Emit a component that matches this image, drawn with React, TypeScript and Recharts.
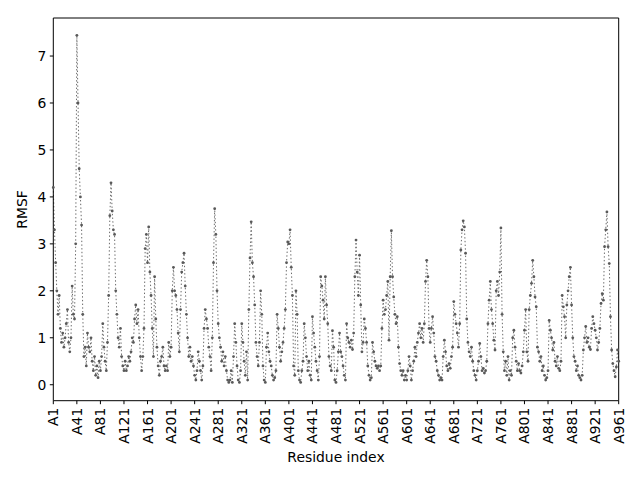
import { Line, LineChart, XAxis, YAxis } from "recharts";

// RMSF per residue, read every 2nd residue (A1, A3, ... A961)
const residueStep = 2;

const rmsfValues = [
  // A1 - A39
  4.2, 3.3, 2.6, 2.0, 1.5, 1.9, 1.2, 0.9, 1.1, 0.8, 1.0, 1.3, 1.6, 0.9, 0.7, 1.0, 2.1, 1.5, 1.4, 3.0,
  // A41 - A79
  7.44, 6.0, 4.6, 4.0, 3.4, 1.5, 0.6, 0.8, 0.4, 1.1, 0.8, 0.7, 1.0, 0.5, 0.3, 0.6, 0.2, 0.4, 0.15, 0.5,
  // A81 - A119
  0.3, 0.6, 1.3, 0.8, 0.5, 0.3, 0.9, 1.9, 3.6, 4.3, 3.7, 3.3, 3.2, 2.0, 1.5, 1.0, 0.8, 1.2, 0.6, 0.4,
  // A121 - A159
  0.3, 0.5, 0.3, 0.4, 0.6, 0.5, 0.7, 1.0, 0.9, 1.4, 1.7, 1.3, 1.6, 1.0, 0.6, 0.3, 0.6, 1.2, 2.9, 3.2,
  // A161 - A199
  2.6, 3.36, 2.4, 1.9, 1.2, 0.6, 2.3, 1.4, 0.8, 0.4, 0.2, 0.5, 0.6, 0.8, 0.4, 0.3, 0.4, 0.3, 0.9, 0.6,
  // A201 - A239
  0.8, 2.0, 2.5, 2.0, 1.9, 1.6, 1.1, 0.7, 1.6, 2.4, 2.6, 2.8, 2.1, 1.5, 1.0, 0.6, 0.8, 0.5, 0.6, 0.4,
  // A241 - A279
  0.2, 0.1, 0.3, 0.7, 0.5, 0.3, 0.1, 0.4, 1.2, 1.6, 1.4, 1.2, 0.8, 0.6, 0.3, 1.0, 2.6, 3.75, 3.2, 2.0,
  // A281 - A319
  1.3, 1.0, 0.8, 0.5, 0.7, 0.4, 0.6, 0.3, 0.1, 0.05, 0.1, 0.3, 0.05, 0.6, 1.3, 0.9, 0.4, 0.1, 0.05, 0.3,
  // A321 - A359
  1.3, 0.9, 0.5, 0.2, 0.7, 0.1, 1.6, 2.7, 3.47, 2.6, 2.3, 1.7, 0.9, 0.6, 0.4, 0.9, 2.0, 1.5, 0.4, 0.1,
  // A361 - A399
  0.05, 0.8, 1.1, 0.7, 0.5, 0.4, 0.2, 0.1, 0.15, 0.3, 1.5, 1.2, 0.8, 0.5, 0.7, 0.9, 1.2, 1.6, 2.6, 3.04,
  // A401 - A439
  3.0, 3.3, 2.5, 1.9, 0.4, 0.2, 2.0, 1.5, 0.3, 0.1, 0.05, 0.3, 0.5, 1.3, 1.0, 0.6, 0.3, 0.5, 0.2, 0.1,
  // A441 - A479
  1.45, 1.1, 0.8, 0.5, 0.3, 0.1, 0.6, 2.3, 2.1, 1.8, 1.4, 2.3, 1.7, 1.3, 0.6, 0.4, 0.3, 1.15, 0.8, 0.1,
  // A481 - A519
  0.05, 0.3, 0.7, 1.1, 0.7, 0.6, 0.4, 0.2, 0.1, 1.3, 1.0, 0.9, 0.8, 0.95, 0.75, 1.1, 2.3, 3.08, 2.4, 1.9,
  // A521 - A559
  2.76, 1.7, 0.7, 0.9, 1.4, 1.2, 0.9, 0.4, 0.2, 0.1, 0.15, 0.9, 0.7, 0.5, 0.4, 0.35, 0.4, 0.3, 0.4, 1.2,
  // A561 - A599
  1.8, 1.5, 1.6, 1.9, 2.2, 0.95, 2.3, 3.28, 2.3, 1.87, 1.5, 1.3, 1.45, 0.8, 0.45, 0.3, 0.2, 0.3, 0.1, 0.2,
  // A601 - A639
  0.1, 0.3, 0.6, 0.4, 0.1, 0.3, 0.5, 0.8, 0.6, 0.9, 1.1, 1.3, 1.0, 1.2, 0.9, 1.3, 2.2, 2.65, 2.3, 1.2,
  // A641 - A679
  0.9, 1.2, 1.45, 1.1, 0.6, 0.5, 0.3, 0.2, 0.1, 0.15, 0.1, 0.6, 0.95, 0.7, 0.4, 0.3, 0.45, 0.35, 0.6, 0.8,
  // A681 - A719
  1.77, 1.5, 1.3, 1.1, 0.8, 1.3, 2.87, 3.3, 3.49, 3.36, 2.8, 1.4, 0.9, 0.7, 0.6, 0.8, 0.5, 0.3, 0.2, 0.1,
  // A721 - A759
  0.3, 0.5, 0.88, 0.6, 0.3, 0.35, 0.25, 0.3, 0.5, 1.3, 1.8, 2.2, 1.6, 1.3, 0.95, 0.74, 2.0, 2.2, 1.9, 2.4,
  // A761 - A799
  3.34, 1.5, 0.7, 0.3, 0.5, 0.2, 0.6, 0.1, 0.3, 0.2, 1.0, 1.16, 0.8, 0.5, 0.3, 0.45, 0.3, 0.25, 0.4, 0.7,
  // A801 - A839
  1.16, 1.6, 0.7, 0.5, 1.6, 1.9, 2.16, 2.65, 2.3, 1.87, 1.66, 0.8, 0.7, 0.5, 0.6, 0.3, 0.4, 0.2, 0.1, 0.15,
  // A841 - A879
  0.3, 1.37, 1.16, 1.0, 0.74, 0.9, 0.5, 0.4, 0.6, 0.35, 0.3, 0.5, 1.9, 1.66, 1.45, 1.0, 1.7, 2.0, 2.3, 2.5,
  // A881 - A919
  1.7, 1.0, 0.6, 0.5, 0.3, 0.4, 0.2, 0.15, 0.1, 0.2, 0.74, 1.0, 1.24, 0.9, 1.0, 0.8, 0.75, 1.2, 1.45, 1.3,
  // A921 - A959
  1.16, 1.0, 0.74, 0.9, 1.2, 1.73, 1.94, 1.8, 2.94, 3.3, 3.68, 2.94, 2.58, 1.45, 0.74, 0.45, 0.3, 0.17, 0.38, 0.74,
  // A961
  0.5,
];

const xTicks = [0, 40, 80, 120, 160, 200, 240, 280, 320, 360, 400, 440, 480, 520, 560, 600, 640, 680, 720, 760, 800, 840, 880, 920, 960];
const tickLabels = [
  "A1", "A41", "A81", "A121", "A161", "A201", "A241", "A281", "A321", "A361", "A401", "A441", "A481",
  "A521", "A561", "A601", "A641", "A681", "A721", "A761", "A801", "A841", "A881", "A921", "A961",
];
const yTicks = [0, 1, 2, 3, 4, 5, 6, 7];

const data = rmsfValues.map((rmsf, i) => ({ residue: i * residueStep, rmsf }));

const FONT = "'DejaVu Sans', sans-serif";
const FS = 13.9;

function ResidueTick({ x, y, payload }: { x?: number; y?: number; payload?: { value: number } }) {
  const idx = xTicks.indexOf(payload?.value ?? -1);
  return (
    <g transform={`translate(${x},${y})`}>
      <text transform="rotate(-90)" textAnchor="end" dy="0.36em" fontSize={FS} fontFamily={FONT} fill="#000">
        {tickLabels[idx]}
      </text>
    </g>
  );
}

function RmsfLabel() {
  return (
    <text
      x={22}
      y={209.5}
      transform="rotate(-90 22 209.5)"
      textAnchor="middle"
      dominantBaseline="central"
      fontSize={FS}
      fontFamily={FONT}
      fill="#000"
    >
      RMSF
    </text>
  );
}

export default function App() {
  return (
    <div style={{ position: "absolute", left: 0, top: 0, width: 640, height: 480, background: "#fff" }}>
      <LineChart width={640} height={480} data={data} margin={{ top: 17, right: 20.3, bottom: 0, left: 0 }}>
        <XAxis
          dataKey="residue"
          type="number"
          domain={[0, 960]}
          ticks={xTicks}
          interval={0}
          height={79.3}
          tickSize={3.5}
          tickMargin={3.5}
          tick={<ResidueTick />}
          axisLine={{ stroke: "#000", strokeWidth: 1 }}
          tickLine={{ stroke: "#000", strokeWidth: 1 }}
          label={{ value: "Residue index", position: "insideBottom", offset: 18.5, fill: "#000", fontSize: FS, fontFamily: FONT }}
        />
        <XAxis
          xAxisId="top"
          orientation="top"
          type="number"
          domain={[0, 1]}
          height={1}
          tick={false}
          tickLine={false}
          axisLine={{ stroke: "#000", strokeWidth: 1 }}
        />
        <YAxis
          type="number"
          domain={[-0.34, 7.81]}
          ticks={yTicks}
          width={53.3}
          tickSize={3.5}
          tickMargin={3.5}
          tick={{ fill: "#000", fontSize: FS, fontFamily: FONT }}
          axisLine={{ stroke: "#000", strokeWidth: 1 }}
          tickLine={{ stroke: "#000", strokeWidth: 1 }}
          label={<RmsfLabel />}
        />
        <YAxis
          yAxisId="right"
          orientation="right"
          type="number"
          domain={[0, 1]}
          width={1}
          tick={false}
          tickLine={false}
          axisLine={{ stroke: "#000", strokeWidth: 1 }}
        />
        <Line
          type="linear"
          dataKey="rmsf"
          stroke="#6a6a6a"
          strokeWidth={1}
          strokeDasharray="1.4 2.3"
          dot={{ r: 1.4, fill: "#595959", stroke: "none", strokeDasharray: "none" }}
          activeDot={false}
          isAnimationActive={false}
        />
      </LineChart>
    </div>
  );
}
